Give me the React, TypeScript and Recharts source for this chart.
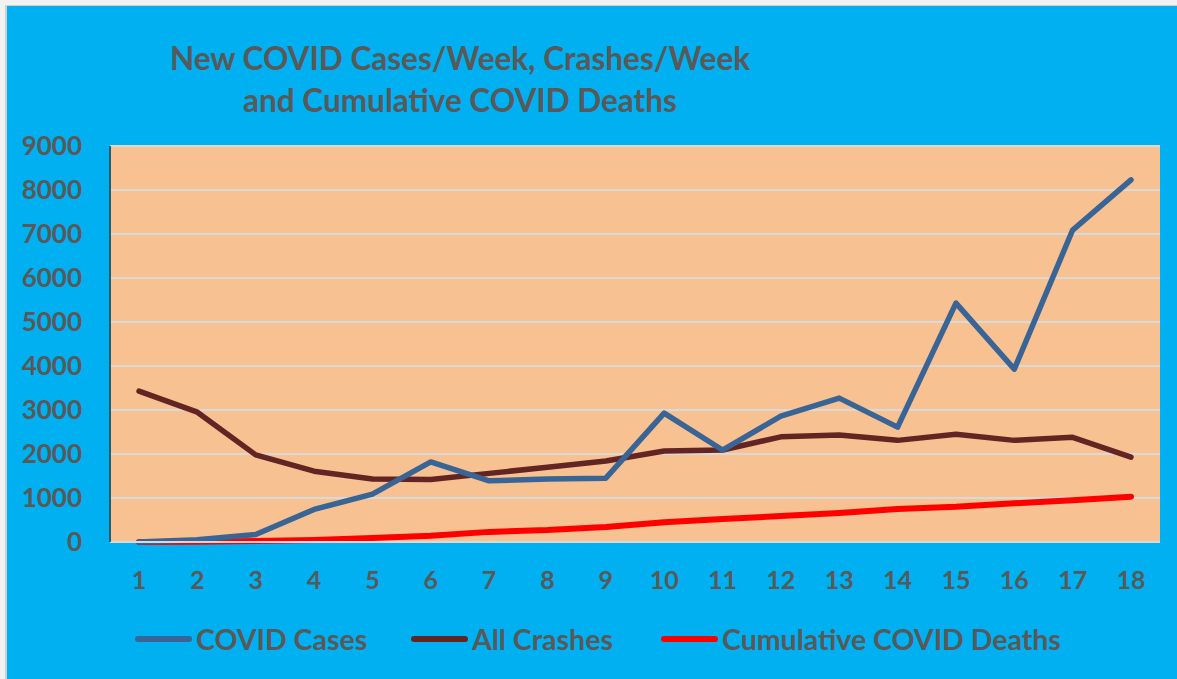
import React from "react";
import { LineChart, Line, XAxis, YAxis, CartesianGrid } from "recharts";

const weeks = ["1","2","3","4","5","6","7","8","9","10","11","12","13","14","15","16","17","18"];
const covidCases = [0, 50, 170, 740, 1090, 1820, 1390, 1430, 1450, 2930, 2090, 2860, 3270, 2610, 5430, 3930, 7090, 8230];
const allCrashes = [3430, 2950, 1980, 1610, 1430, 1420, 1560, 1700, 1840, 2070, 2090, 2390, 2430, 2310, 2450, 2310, 2380, 1930];
const cumulativeDeaths = [0, 5, 20, 45, 90, 140, 230, 270, 340, 450, 520, 590, 660, 750, 800, 880, 950, 1030];
const yTicks = [0, 1000, 2000, 3000, 4000, 5000, 6000, 7000, 8000, 9000];
const titleLines = ["New COVID Cases/Week, Crashes/Week", "and Cumulative COVID Deaths"];
const seriesNames = ["COVID Cases", "All Crashes", "Cumulative COVID Deaths"];
const seriesColors = ["#386496", "#632523", "#FF0000"];

const data = weeks.map((w, i) => ({
  week: w,
  cases: covidCases[i],
  crashes: allCrashes[i],
  deaths: cumulativeDeaths[i],
}));

const FONT = "Lato, 'Open Sans', sans-serif";
const TEXT = "#595959";

export default function App() {
  return (
    <div style={{ position: "absolute", left: 0, top: 0, width: 1177, height: 679, background: "#F2F2F2", overflow: "hidden", fontFamily: FONT }}>
      <div style={{ position: "absolute", left: 5, top: 5, right: 0, bottom: 0, background: "#00B0F0", borderLeft: "2px solid #D0D0D0", borderTop: "1px solid #D0D0D0" }} />
      <div style={{ position: "absolute", left: 0, top: 0 }}>
        <LineChart width={1177} height={679} data={data} margin={{ top: 146, right: 17, bottom: 87, left: 10 }}>
          <CartesianGrid vertical={false} horizontal={true} stroke="#D9D9D9" strokeWidth={2} fill="#F8C191" />
          <XAxis
            dataKey="week"
            type="category"
            padding={{ left: 29, right: 29 }}
            height={50}
            axisLine={{ stroke: "#D9D9D9", strokeWidth: 2 }}
            tickLine={false}
            tickSize={0}
            tickMargin={29}
            interval={0}
            tick={{ fill: TEXT, fontSize: 25, fontWeight: 700, fontFamily: FONT }}
          />
          <XAxis
            xAxisId="top"
            orientation="top"
            dataKey="week"
            height={0}
            tick={false}
            tickLine={false}
            axisLine={{ stroke: "#3A5C68", strokeWidth: 2 }}
          />
          <YAxis
            domain={[0, 9000]}
            ticks={yTicks}
            width={100}
            interval={0}
            axisLine={{ stroke: "#2E5A6A", strokeWidth: 2 }}
            tickLine={false}
            tickSize={0}
            tickMargin={28}
            tick={{ fill: TEXT, fontSize: 26, fontWeight: 700, fontFamily: FONT }}
          />
          <YAxis
            yAxisId="right"
            orientation="right"
            domain={[0, 9000]}
            width={0}
            tick={false}
            tickLine={false}
            axisLine={{ stroke: "#3A5C68", strokeWidth: 2 }}
          />
          <Line dataKey="deaths" name={seriesNames[2]} stroke={seriesColors[2]} strokeWidth={6} strokeLinecap="round" strokeLinejoin="round" dot={false} isAnimationActive={false} />
          <Line dataKey="crashes" name={seriesNames[1]} stroke={seriesColors[1]} strokeWidth={5.5} strokeLinecap="round" strokeLinejoin="round" dot={false} isAnimationActive={false} />
          <Line dataKey="cases" name={seriesNames[0]} stroke={seriesColors[0]} strokeWidth={5.5} strokeLinecap="round" strokeLinejoin="round" dot={false} isAnimationActive={false} />
        </LineChart>
      </div>
      <div style={{ position: "absolute", left: 0, width: 920, top: 37, textAlign: "center", color: TEXT, fontWeight: 700, fontSize: 31.5, lineHeight: "42px" }}>
        <div>{titleLines[0]}</div>
        <div>{titleLines[1]}</div>
      </div>
      {[135, 411, 661].map((x, i) => (
        <div key={i} style={{ position: "absolute", left: x, top: 620, height: 38, display: "flex", alignItems: "center", color: TEXT, fontWeight: 700, fontSize: 28.5, whiteSpace: "nowrap" }}>
          <span style={{ display: "inline-block", width: 57, height: 6, borderRadius: 3, background: seriesColors[i], marginRight: 4 }} />
          <span>{seriesNames[i]}</span>
        </div>
      ))}
    </div>
  );
}
